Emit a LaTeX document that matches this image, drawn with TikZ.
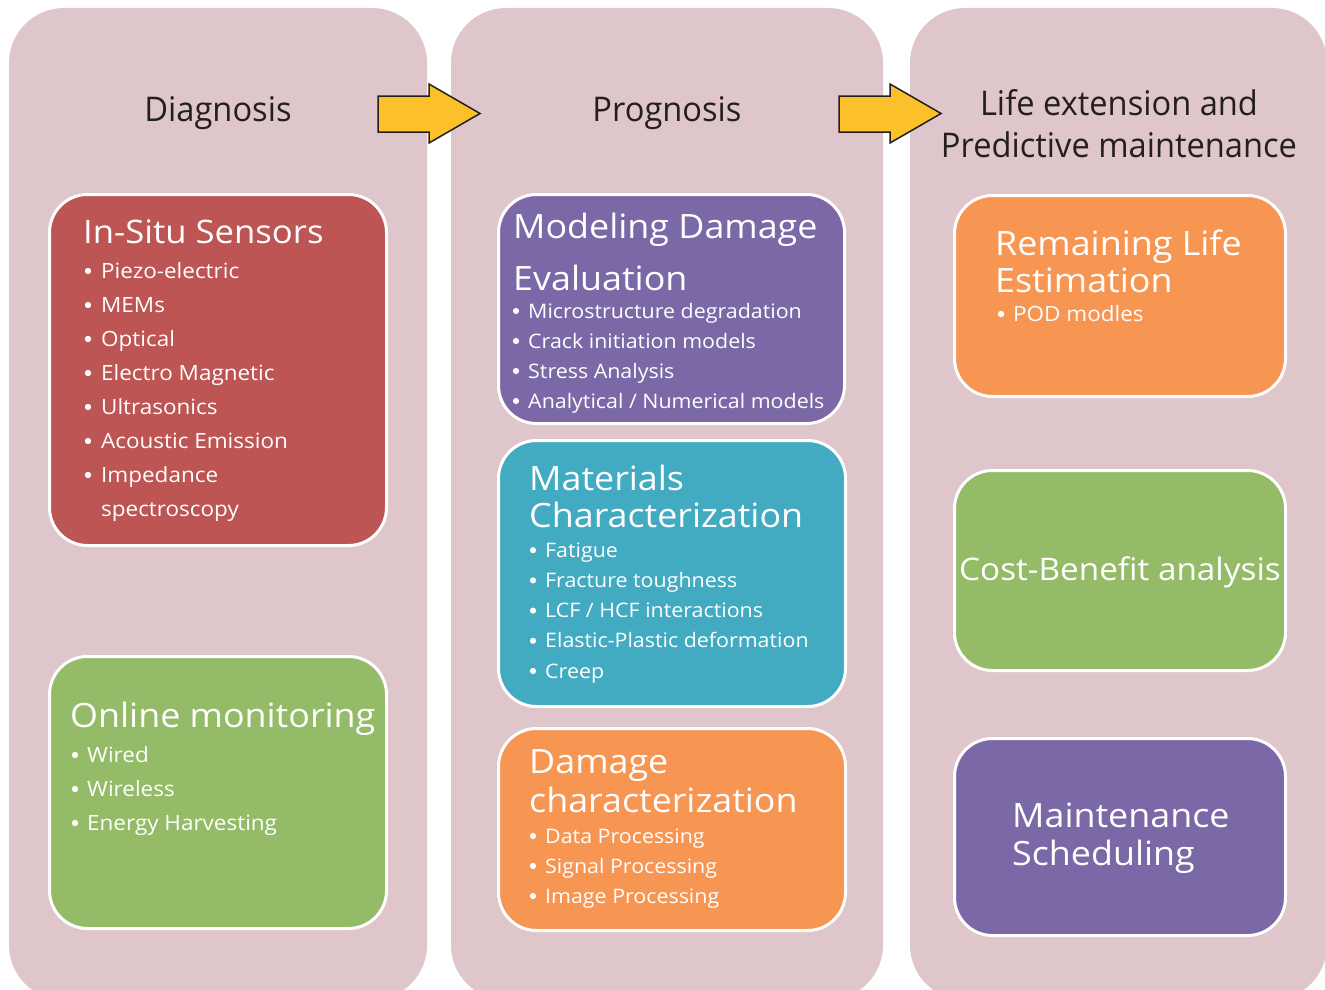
\documentclass[tikz,border=0pt]{standalone}
\usepackage{fontspec}
\setmainfont{Open Sans}
\newfontfamily\boxfont[FakeStretch=1.07]{Open Sans}
\newfontfamily\hdrfont[FakeStretch=0.96]{Open Sans}
\definecolor{colbg}{HTML}{DFC6CA}
\definecolor{cred}{HTML}{BC5553}
\definecolor{cgreen}{HTML}{94BB67}
\definecolor{cpurple}{HTML}{7B68A6}
\definecolor{cteal}{HTML}{42ABC2}
\definecolor{corange}{HTML}{F79552}
\definecolor{cyellow}{HTML}{FCC12A}
\definecolor{cdark}{HTML}{231F20}
\begin{document}
\begin{tikzpicture}[x=1pt,y=-1pt,
  colbox/.style={fill=colbg, rounded corners=55},
  box/.style={draw=white, line width=3pt, rounded corners=38, inner sep=0},
  hdr/.style={text=cdark, font=\hdrfont\fontsize{34}{42}\selectfont, inner sep=0, anchor=base},
  ttl/.style={anchor=base west, text=white, font=\boxfont\fontsize{33.5}{33.5}\selectfont, inner sep=0},
  itm/.style={anchor=base west, text=white, font=\boxfont\fontsize{21}{21}\selectfont, inner sep=0},
  itmm/.style={itm, font=\boxfont\fontsize{20}{20}\selectfont},
  dot/.style={fill=white},
  barrow/.style={fill=cyellow, draw=cdark, line width=1.5pt, line join=miter}]
\useasboundingbox (0,0) rectangle (1325,990);
% columns
\fill[colbox] (9,8) rectangle (427,1000);
\fill[colbox] (451,8) rectangle (883,1000);
\fill[colbox] (910,8) rectangle (1327,1000);
% arrows
\draw[barrow] (378,96) -- (429,96) -- (429,84) -- (480,113.5) -- (429,143) -- (429,132) -- (378,132) -- cycle;
\draw[barrow] (839,96) -- (890,96) -- (890,84) -- (941,113.5) -- (890,143) -- (890,132) -- (839,132) -- cycle;
% headers
\node[hdr] (h1) at (218,121) {Diagnosis};
\node[hdr] (h2) at (667,121) {Prognosis};
\node[hdr] (h3a) at (1119,115) {Life extension and};
\node[hdr] (h3b) at (1119,157) {Predictive maintenance};
% boxes
\node[box, fill=cred, minimum width=337, minimum height=351] (insitu) at (218,370) {};
\node[box, fill=cgreen, minimum width=337, minimum height=272] (online) at (218,792.5) {};
\node[box, fill=cpurple, minimum width=346, minimum height=229] (model) at (671.5,309) {};
\node[box, fill=cteal, minimum width=347, minimum height=266] (mater) at (672,573.5) {};
\node[box, fill=corange, minimum width=347, minimum height=202] (damage) at (672,829.5) {};
\node[box, fill=corange, minimum width=331, minimum height=201] (remain) at (1120,296) {};
\node[box, fill=cgreen, minimum width=331, minimum height=200] (cost) at (1120,570.5) {};
\node[box, fill=cpurple, minimum width=331, minimum height=197] (maint) at (1120,837) {};
% In-Situ
\node[ttl, font=\boxfont\fontsize{32.4}{32.4}\selectfont] (insituT) at (83,243) {In-Situ Sensors};
\foreach \t [count=\i] in {Piezo-electric,MEMs,Optical,Electro Magnetic,Ultrasonics,Acoustic Emission,Impedance}{
  \node[itm] (insitu\i) at (101,244+34*\i) {\t};
  \fill[dot] (88,237+34*\i) circle (3.2);}
\node[itm] (insitu8) at (101,516) {spectroscopy};
% Online
\node[ttl] (onlineT) at (70,727) {Online monitoring};
\foreach \t [count=\i] in {Wired,Wireless,Energy Harvesting}{
  \node[itm] (online\i) at (87,728+34*\i) {\t};
  \fill[dot] (75,721+34*\i) circle (3.2);}
% Modeling
\node[ttl] (modelT1) at (513,238) {Modeling Damage};
\node[ttl] (modelT2) at (513,290) {Evaluation};
\foreach \t [count=\i] in {Microstructure degradation,Crack initiation models,Stress Analysis,Analytical / Numerical models}{
  \node[itmm] (model\i) at (528,288+30*\i) {\t};
  \fill[dot] (516,281+30*\i) circle (3.1);}
% Materials
\node[ttl] (materT1) at (529,490) {Materials};
\node[ttl] (materT2) at (529,527) {Characterization};
\foreach \t [count=\i] in {Fatigue,Fracture toughness,LCF / HCF interactions,Elastic-Plastic deformation,Creep}{
  \node[itmm] (mater\i) at (545,527+30.2*\i) {\t};
  \fill[dot] (533,520+30.2*\i) circle (3.1);}
% Damage
\node[ttl] (damageT1) at (529,773) {Damage};
\node[ttl] (damageT2) at (529,812) {characterization};
\foreach \t [count=\i] in {Data Processing,Signal Processing,Image Processing}{
  \node[itmm] (damage\i) at (545,813+30*\i) {\t};
  \fill[dot] (533,806+30*\i) circle (3.1);}
% Remaining
\node[ttl] (remainT1) at (995,255) {Remaining Life};
\node[ttl] (remainT2) at (995,292) {Estimation};
\node[itm] (remain1) at (1013,321) {POD modles};
\fill[dot] (1001,314) circle (3.2);
% Cost
\node[ttl, anchor=base, font=\boxfont\fontsize{31.1}{31.1}\selectfont] (costT) at (1120,580) {Cost-Benefit analysis};
% Maintenance
\node[ttl] (maintT1) at (1012,827) {Maintenance};
\node[ttl] (maintT2) at (1012,865) {Scheduling};
\end{tikzpicture}
\end{document}
